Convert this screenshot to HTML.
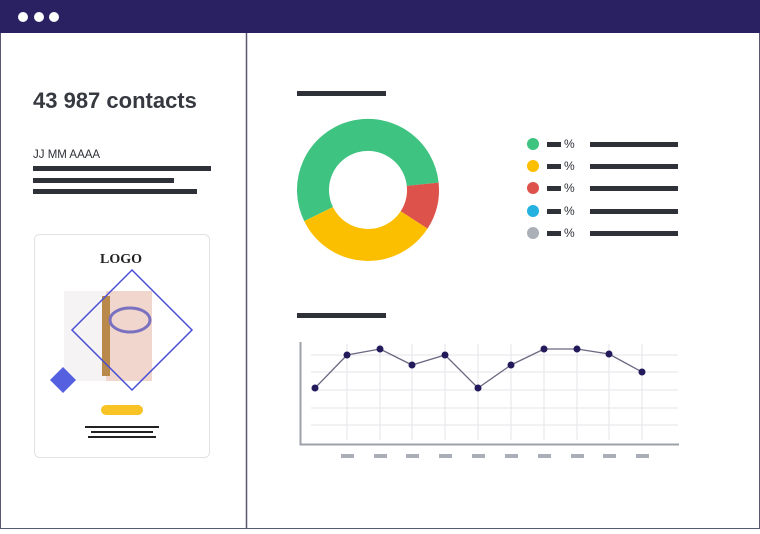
<!DOCTYPE html>
<html><head><meta charset="utf-8"><style>
body{margin:0;width:760px;height:529px;overflow:hidden;background:#fff;font-family:"Liberation Sans",sans-serif}
</style></head><body>
<svg width="760" height="529" viewBox="0 0 760 529" xmlns="http://www.w3.org/2000/svg">
<rect x="0.5" y="0.5" width="759" height="528" fill="#fff" stroke="#5a5870"/>
<rect x="0" y="0" width="760" height="33" fill="#2a2162"/>
<circle cx="23" cy="17" r="5" fill="#fff"/><circle cx="39" cy="17" r="5" fill="#fff"/><circle cx="54" cy="17" r="5" fill="#fff"/>
<line x1="246.5" y1="33" x2="246.5" y2="529" stroke="#5a5870" stroke-width="1.5"/>
<text x="33" y="108" font-size="22" fill="#363940" font-weight="bold">43 987 contacts</text>
<text x="33" y="158" font-size="11.5" fill="#2e3038">JJ MM AAAA</text>
<rect x="33" y="166" width="178" height="5" fill="#2e3138"/>
<rect x="33" y="178" width="141" height="5" fill="#2e3138"/>
<rect x="33" y="189" width="164" height="5" fill="#2e3138"/>
<rect x="34.5" y="234.5" width="175" height="223" rx="5" fill="#fff" stroke="#e2e2e6"/>
<text x="121" y="263" font-size="14" font-weight="bold" text-anchor="middle" font-family="Liberation Serif,serif" fill="#222">LOGO</text>
<rect x="64" y="291" width="88" height="90" fill="#f5f3f3"/>
<rect x="106" y="291" width="46" height="90" fill="#f0d6cc"/>
<rect x="102" y="296" width="8" height="80" fill="#b8894a"/>
<ellipse cx="130" cy="320" rx="20" ry="12" fill="none" stroke="#7a70c0" stroke-width="3"/>
<polygon points="132,270 192,330 132,390 72,330" fill="none" stroke="#4a4fd8" stroke-width="1.5"/>
<polygon points="63,367 76,380 63,393 50,380" fill="#5560e0"/>
<rect x="101" y="405" width="42" height="10" rx="5" fill="#f7c325"/>
<rect x="85" y="426" width="74" height="2" fill="#222"/>
<rect x="91" y="431" width="62" height="2" fill="#222"/>
<rect x="88" y="436" width="68" height="2" fill="#222"/>
<rect x="297" y="91" width="89" height="5" fill="#2e3138"/>
<rect x="297" y="313" width="89" height="5" fill="#2e3138"/>
<g fill="none" stroke-width="32">
<path d="M318.6,214.1 A55,55 0 1 1 422.7,184.25" stroke="#3fc380"/>
<path d="M422.7,184.25 A55,55 0 0 1 414.1,219.95" stroke="#dd534b"/>
<path d="M414.1,219.95 A55,55 0 0 1 318.6,214.1" stroke="#fcbf00"/>
</g>
<g>
<circle cx="533" cy="144" r="6" fill="#3fc380"/>
<circle cx="533" cy="166" r="6" fill="#fcbf00"/>
<circle cx="533" cy="188" r="6" fill="#dd534b"/>
<circle cx="533" cy="211" r="6" fill="#26b2e0"/>
<circle cx="533" cy="233" r="6" fill="#abb0b8"/>
</g>
<g fill="#2e3138">
<rect x="547" y="142" width="14" height="5"/><rect x="590" y="142" width="88" height="5"/>
<rect x="547" y="164" width="14" height="5"/><rect x="590" y="164" width="88" height="5"/>
<rect x="547" y="186" width="14" height="5"/><rect x="590" y="186" width="88" height="5"/>
<rect x="547" y="209" width="14" height="5"/><rect x="590" y="209" width="88" height="5"/>
<rect x="547" y="231" width="14" height="5"/><rect x="590" y="231" width="88" height="5"/>
</g>
<g font-size="12" fill="#2e3138">
<text x="564" y="148">%</text><text x="564" y="170">%</text><text x="564" y="192">%</text><text x="564" y="215">%</text><text x="564" y="237">%</text>
</g>
<g stroke="#e6e6ea" stroke-width="1">
<line x1="311" y1="355" x2="678" y2="355"/><line x1="311" y1="372" x2="678" y2="372"/>
<line x1="311" y1="390" x2="678" y2="390"/><line x1="311" y1="408" x2="678" y2="408"/>
<line x1="311" y1="425" x2="678" y2="425"/>
<line x1="347" y1="344" x2="347" y2="440"/><line x1="380" y1="344" x2="380" y2="440"/>
<line x1="412" y1="344" x2="412" y2="440"/><line x1="445" y1="344" x2="445" y2="440"/>
<line x1="478" y1="344" x2="478" y2="440"/><line x1="511" y1="344" x2="511" y2="440"/>
<line x1="544" y1="344" x2="544" y2="440"/><line x1="577" y1="344" x2="577" y2="440"/>
<line x1="609" y1="344" x2="609" y2="440"/><line x1="642" y1="344" x2="642" y2="440"/>
</g>
<path d="M300.5,342 V444.5 H679" fill="none" stroke="#9da1aa" stroke-width="2"/>
<polyline points="315,388 347,355 380,349 412,365 445,355 478,388 511,365 544,349 577,349 609,354 642,372" fill="none" stroke="#6a6880" stroke-width="1.3"/>
<g fill="#231a5c">
<circle cx="315" cy="388" r="3.5"/><circle cx="347" cy="355" r="3.5"/><circle cx="380" cy="349" r="3.5"/>
<circle cx="412" cy="365" r="3.5"/><circle cx="445" cy="355" r="3.5"/><circle cx="478" cy="388" r="3.5"/>
<circle cx="511" cy="365" r="3.5"/><circle cx="544" cy="349" r="3.5"/><circle cx="577" cy="349" r="3.5"/>
<circle cx="609" cy="354" r="3.5"/><circle cx="642" cy="372" r="3.5"/>
</g>
<g fill="#a9aeb8">
<rect x="341" y="454" width="13" height="4"/><rect x="374" y="454" width="13" height="4"/>
<rect x="406" y="454" width="13" height="4"/><rect x="439" y="454" width="13" height="4"/>
<rect x="472" y="454" width="13" height="4"/><rect x="505" y="454" width="13" height="4"/>
<rect x="538" y="454" width="13" height="4"/><rect x="571" y="454" width="13" height="4"/>
<rect x="603" y="454" width="13" height="4"/><rect x="636" y="454" width="13" height="4"/>
</g>
</svg>
</body></html>
